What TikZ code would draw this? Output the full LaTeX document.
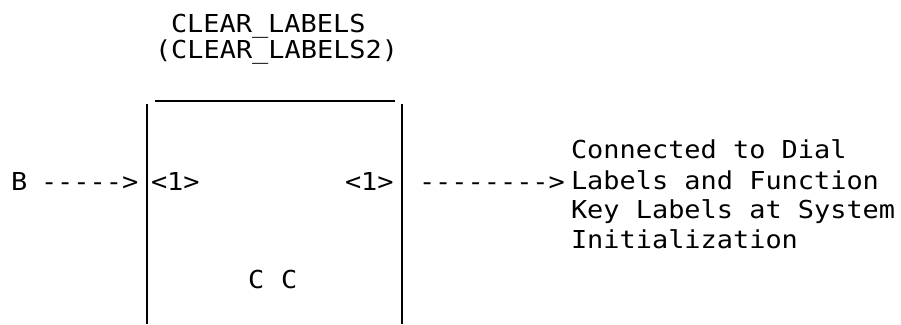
\documentclass[tikz,border=0pt]{standalone}
\usepackage{fontspec}
\newfontfamily\diagmono[FakeStretch=1.09]{DejaVu Sans Mono}
\begin{document}
\begin{tikzpicture}[x=1pt,y=-1pt,
  txt/.style={anchor=base west, inner sep=0pt, outer sep=0pt,
    font=\diagmono\fontsize{24.7}{24.7}\selectfont},
  boxline/.style={line width=2pt, line cap=butt},
  topline/.style={line width=1.6pt}]
\useasboundingbox (0,0) rectangle (901,324);
% title
\node[txt] (t1) at (171,32) {CLEAR\_LABELS};
\node[txt] (t2) at (155,58) {(CLEAR\_LABELS2)};
% box
\coordinate (tl) at (155,101);
\coordinate (tr) at (395,101);
\coordinate (lt) at (147,104);
\coordinate (lb) at (147,324);
\coordinate (rt) at (402,104);
\coordinate (rb) at (402,324);
\draw[topline] (tl) -- (tr);
\draw[boxline] (lt) -- (lb);
\draw[boxline] (rt) -- (rb);
% middle row
\node[txt] (b) at (11,190) {B};
\node[txt] (barrow) at (41,190) {----->};
\node[txt] (in1) at (151,190) {<1>};
\node[txt] (out1) at (345,190) {<1>};
\node[txt] (rarrow) at (419,190) {-------->};
\node[txt] (c1) at (248,288) {C};
\node[txt] (c2) at (281,288) {C};
% right text
\node[txt] (r1) at (571,158) {Connected to Dial};
\node[txt] (r2) at (571,189) {Labels and Function};
\node[txt] (r3) at (571,218) {Key Labels at System};
\node[txt] (r4) at (571,248) {Initialization};
\end{tikzpicture}
\end{document}
